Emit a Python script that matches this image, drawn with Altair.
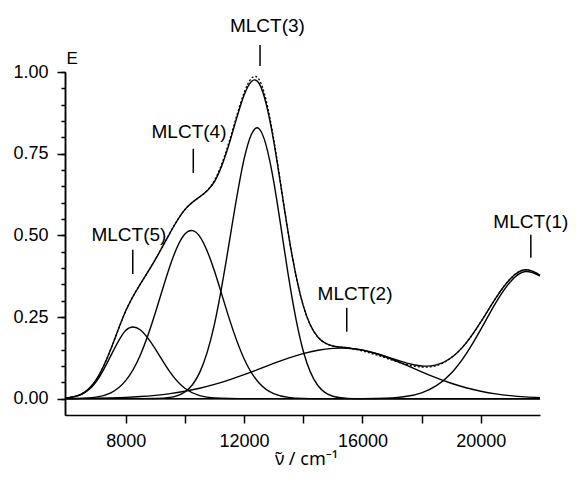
import altair as alt
import pandas as pd

# wavenumber grid (cm^-1)
wavenumber = [6000, 6500, 7000, 7500, 8000, 8500, 9000, 9500, 10000, 10500,
              11000, 11500, 12000, 12500, 13000, 13500, 14000, 14500, 15000, 15500,
              16000, 16500, 17000, 17500, 18000, 18500, 19000, 19500, 20000, 20500,
              21000, 21500, 22000]

mlct5 = [0.0018, 0.0123, 0.0512, 0.1316, 0.2090, 0.2103, 0.1526, 0.0813, 0.0318, 0.0091,
         0.0019, 0.0003, 0, 0, 0, 0, 0, 0, 0, 0,
         0, 0, 0, 0, 0, 0, 0, 0, 0, 0,
         0, 0, 0]
mlct4 = [0.0002, 0.0010, 0.0047, 0.0180, 0.0551, 0.1346, 0.2622, 0.4071, 0.5038, 0.4970,
         0.3908, 0.2450, 0.1224, 0.0488, 0.0155, 0.0039, 0.0008, 0.0001, 0, 0,
         0, 0, 0, 0, 0, 0, 0, 0, 0, 0,
         0, 0, 0]
mlct3 = [0, 0, 0, 0, 0, 0.0001, 0.0005, 0.0039, 0.0205, 0.0798,
         0.2280, 0.4783, 0.7330, 0.8270, 0.6660, 0.3752, 0.1460, 0.0395, 0.0074, 0.0010,
         0.0001, 0, 0, 0, 0, 0, 0, 0, 0, 0,
         0, 0, 0]
mlct2 = [0.0004, 0.0008, 0.0014, 0.0024, 0.0040, 0.0065, 0.0102, 0.0154, 0.0226, 0.0319,
         0.0436, 0.0576, 0.0734, 0.0905, 0.1078, 0.1241, 0.1380, 0.1483, 0.1540, 0.1545,
         0.1486, 0.1368, 0.1206, 0.1018, 0.0823, 0.0637, 0.0472, 0.0335, 0.0228, 0.0148,
         0.0092, 0.0055, 0.0031]
mlct1 = [0, 0, 0, 0, 0, 0, 0, 0, 0, 0,
         0, 0, 0, 0, 0, 0, 0, 0, 0, 0.0001,
         0.0002, 0.0008, 0.0025, 0.0072, 0.0179, 0.0397, 0.0781, 0.1366, 0.2122, 0.2924,
         0.3580, 0.3891, 0.3755]
fit_total = [0.0024, 0.0141, 0.0573, 0.1520, 0.2681, 0.3515, 0.4255, 0.5077, 0.5787, 0.6178,
             0.6643, 0.7812, 0.9288, 0.9663, 0.7893, 0.5032, 0.2848, 0.1879, 0.1614, 0.1556,
             0.1489, 0.1376, 0.1231, 0.1090, 0.1002, 0.1034, 0.1253, 0.1701, 0.2350, 0.3072,
             0.3672, 0.3946, 0.3786]
experimental = [0.0024, 0.0141, 0.0573, 0.1520, 0.2681, 0.3515, 0.4255, 0.5077, 0.5787, 0.6178,
                0.6680, 0.7880, 0.9360, 0.9780, 0.7960, 0.5032, 0.2848, 0.1879, 0.1614, 0.1556,
                0.1460, 0.1330, 0.1180, 0.1040, 0.0970, 0.1010, 0.1253, 0.1701, 0.2350, 0.3072,
                0.3672, 0.3946, 0.3786]

ann_labels = ["MLCT(1)", "MLCT(2)", "MLCT(3)", "MLCT(4)", "MLCT(5)"]
ann_text_x = [21690, 15750, 12790, 10140, 8110]
ann_text_y = [0.523, 0.303, 1.122, 0.797, 0.483]
ann_tick_x = [21690, 15470, 12540, 10285, 8240]
ann_tick_top = [0.502, 0.278, 1.083, 0.765, 0.456]
ann_tick_bottom = [0.431, 0.205, 1.018, 0.691, 0.382]

x_tick_values = [8000, 10000, 12000, 14000, 16000, 18000, 20000]
y_major_values = [0.0, 0.25, 0.5, 0.75, 1.0]
y_minor_values = [0.0, 0.05, 0.1, 0.15, 0.2, 0.25, 0.3, 0.35, 0.4, 0.45, 0.5,
                  0.55, 0.6, 0.65, 0.7, 0.75, 0.8, 0.85, 0.9, 0.95, 1.0]
zero_line = [0.0]

rows = []
for name, vals in [("MLCT(1)", mlct1), ("MLCT(2)", mlct2), ("MLCT(3)", mlct3),
                   ("MLCT(4)", mlct4), ("MLCT(5)", mlct5), ("fit", fit_total)]:
    for xv, yv in zip(wavenumber, vals):
        rows.append({"x": xv, "y": yv, "band": name})
bands_df = pd.DataFrame(rows)
exp_df = pd.DataFrame({"x": wavenumber, "y": experimental})
ann_df = pd.DataFrame({"label": ann_labels, "tx": ann_text_x, "ty": ann_text_y,
                       "kx": ann_tick_x, "k1": ann_tick_top, "k2": ann_tick_bottom})
zero_df = pd.DataFrame({"y": zero_line})

FONT = "Liberation Sans"
xscale = alt.Scale(domain=[5950, 22000], nice=False, zero=False)
yscale = alt.Scale(domain=[-0.05, 1.0], nice=False, zero=False)

x_axis = alt.Axis(orient="bottom", values=x_tick_values, format="d",
                  labelExpr="datum.value % 4000 === 0 ? datum.label : ''",
                  tickSize=8, tickWidth=1.5, tickColor="black",
                  domainColor="black", domainWidth=1.5, grid=False,
                  labelFont=FONT, labelFontSize=18, labelColor="black", labelPadding=9.5,
                  title="\u03bd\u0303 / cm\u207b\u00b9", titleFont="Noto Sans", titleFontSize=18,
                  titleFontWeight="normal", titleColor="black",
                  titleX=241, titleY=49, titleAlign="center", titleBaseline="alphabetic")

y_major_axis = alt.Axis(orient="left", values=y_major_values, format=".2f",
                        tickSize=8, tickWidth=1.5, tickColor="black",
                        domainColor="black", domainWidth=1.5, grid=False,
                        labelFont=FONT, labelFontSize=18, labelColor="black", labelPadding=9,
                        title="E", titleFont=FONT, titleFontSize=17, titleFontWeight="normal",
                        titleColor="black", titleAngle=0, titleX=1, titleY=-9,
                        titleAlign="left", titleBaseline="alphabetic")

y_minor_axis = alt.Axis(orient="left", values=y_minor_values, labels=False,
                        tickSize=4, tickWidth=1.5, tickColor="black",
                        domainColor="black", domainWidth=1.5, grid=False, title="")

bands = alt.Chart(bands_df).mark_line(
    interpolate="natural", color="black", strokeWidth=1.4
).encode(
    x=alt.X("x:Q", scale=xscale, axis=x_axis),
    y=alt.Y("y:Q", scale=yscale, axis=y_major_axis),
    detail="band:N",
)

zero = alt.Chart(zero_df).mark_rule(color="black", strokeWidth=1.5).encode(
    y=alt.Y("y:Q", scale=yscale, axis=y_minor_axis)
)

exp_line = alt.Chart(exp_df).mark_line(
    interpolate="natural", color="black", strokeWidth=1.3, strokeDash=[2, 2]
).encode(
    x=alt.X("x:Q", scale=xscale, axis=None),
    y=alt.Y("y:Q", scale=yscale, axis=None),
)

ann_text = alt.Chart(ann_df).mark_text(
    font=FONT, fontSize=19, color="black", align="center", baseline="alphabetic"
).encode(
    x=alt.X("tx:Q", scale=xscale, axis=None),
    y=alt.Y("ty:Q", scale=yscale, axis=None),
    text="label:N",
)

ann_ticks = alt.Chart(ann_df).mark_rule(color="black", strokeWidth=1.5).encode(
    x=alt.X("kx:Q", scale=xscale, axis=None),
    y=alt.Y("k1:Q", scale=yscale, axis=None),
    y2="k2:Q",
)

chart = alt.layer(bands, zero, exp_line, ann_ticks, ann_text).resolve_axis(
    x="independent", y="independent"
).properties(
    width=475, height=343,
    autosize=alt.AutoSizeParams(type="none"),
    padding={"left": 57, "top": 64, "right": 28, "bottom": 57},
    background="white",
).configure_view(stroke=None)

chart.save("out.html", embed_options={"renderer": "svg", "actions": False})
